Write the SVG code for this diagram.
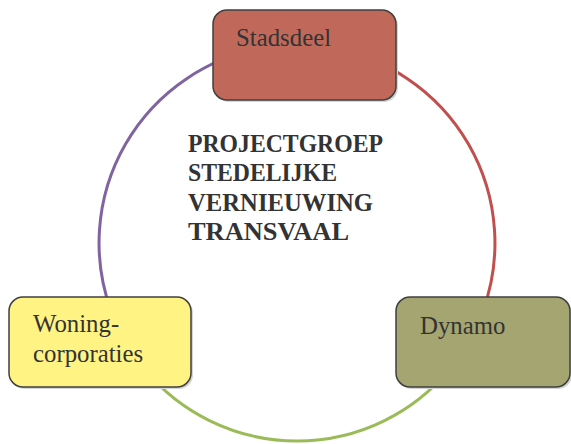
<svg xmlns="http://www.w3.org/2000/svg" width="571" height="444" viewBox="0 0 571 444">
  <style>
    .box { stroke: #3f3f3f; stroke-width: 1.5; }
    .shadow { fill: #d4d4d4; }
    .label { font-family: "Liberation Serif", "Times New Roman", serif; font-size: 24.8px; fill: #333333; }
    .title { font-family: "Liberation Serif", "Times New Roman", serif; font-size: 26px; font-weight: bold; fill: #333333; }
    .arc { fill: none; stroke-width: 3; }
  </style>

  <rect width="571" height="444" fill="#ffffff"/>

  <!-- ring of links between the three partners (circle centre 297,243 r 198) -->
  <g id="connectors">
    <path class="arc" stroke="#8064a2" d="M 262.6 48 A 198 198 0 0 0 111 310.7"/>
    <path class="arc" stroke="#c0504d" d="M 331.4 48 A 198 198 0 0 1 483 310.7"/>
    <path class="arc" stroke="#9bbb59" d="M 145.3 370.3 A 198 198 0 0 0 448.7 370.3"/>
  </g>

  <g id="title">
    <text class="title" x="188" y="152" textLength="195" lengthAdjust="spacingAndGlyphs">PROJECTGROEP</text>
    <text class="title" x="188" y="181" textLength="149" lengthAdjust="spacingAndGlyphs">STEDELIJKE</text>
    <text class="title" x="188" y="211" textLength="185" lengthAdjust="spacingAndGlyphs">VERNIEUWING</text>
    <text class="title" x="188" y="240" textLength="161" lengthAdjust="spacingAndGlyphs">TRANSVAAL</text>
  </g>

  <g id="stadsdeel">
    <rect class="shadow" x="215" y="12" width="183" height="90" rx="14"/>
    <rect class="box" x="213" y="10" width="183" height="90" rx="14" fill="#c0695a"/>
    <text class="label" x="236" y="46">Stadsdeel</text>
  </g>

  <g id="woningcorporaties">
    <rect class="shadow" x="11" y="299" width="182" height="90" rx="14"/>
    <rect class="box" x="9" y="297" width="182" height="90" rx="14" fill="#fff384"/>
    <text class="label" x="33" y="332">Woning-</text>
    <text class="label" x="33" y="362">corporaties</text>
  </g>

  <g id="dynamo">
    <rect class="shadow" x="398" y="299" width="174" height="90" rx="14"/>
    <rect class="box" x="396" y="297" width="174" height="90" rx="14" fill="#a4a570"/>
    <text class="label" x="420" y="334">Dynamo</text>
  </g>
</svg>
